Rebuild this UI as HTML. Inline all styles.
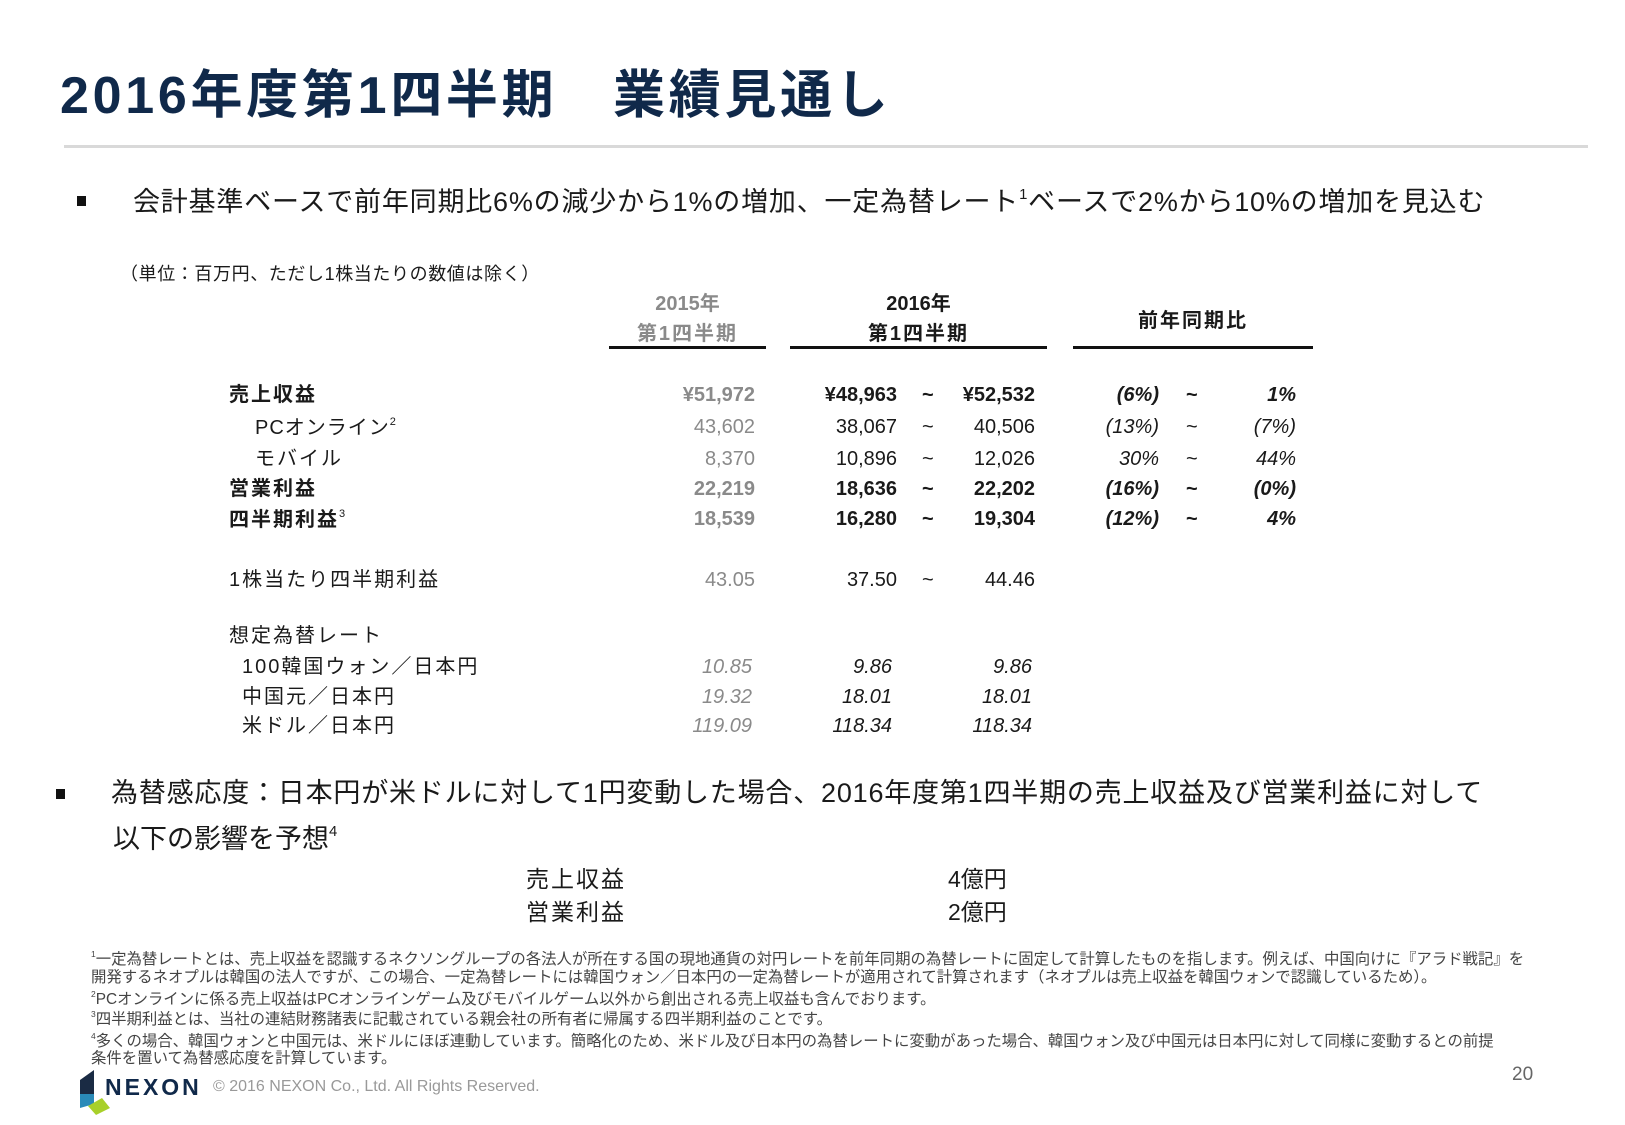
<!DOCTYPE html>
<html><head><meta charset="utf-8"><style>
body{margin:0;width:1625px;height:1125px;background:#fff;position:relative;overflow:hidden;font-family:"Liberation Sans","Noto Sans CJK JP",sans-serif;color:#1a1a1a}
div{position:absolute;white-space:nowrap;line-height:1}
.t{font-size:20px}
.b{font-weight:bold}
.g{color:#8a8a8a}
.i{font-style:italic}
.r{text-align:right}
.l{letter-spacing:2px}
.f{font-size:15.4px;color:#444;left:91px}
sup{font-size:0.55em;vertical-align:0.8em;font-weight:normal}
</style></head><body>
<div style="left:60px;top:70px;font-size:52px;font-weight:bold;color:#10294a;letter-spacing:3.7px">2016年度第1四半期　業績見通し</div>
<div style="left:64px;top:145px;width:1524px;height:3px;background:#d9d9d9"></div>
<div style="left:77px;top:196px;width:9px;height:10px;background:#111"></div>
<div style="left:133px;top:188px;font-size:27px;letter-spacing:0.8px">会計基準ベースで前年同期比6%の減少から1%の増加、一定為替レート<sup>1</sup>ベースで2%から10%の増加を見込む</div>
<div style="left:120px;top:265px;font-size:18px;letter-spacing:0.6px">（単位：百万円、ただし1株当たりの数値は除く）</div>
<div class="t b g" style="left:609px;width:157px;text-align:center;top:294px">2015年</div>
<div class="t b g l" style="left:609px;width:157px;text-align:center;top:324px">第1四半期</div>
<div class="t b" style="left:790px;width:257px;text-align:center;top:294px">2016年</div>
<div class="t b l" style="left:790px;width:257px;text-align:center;top:324px">第1四半期</div>
<div class="t b l" style="left:1073px;width:240px;text-align:center;top:311px">前年同期比</div>
<div style="left:609px;top:346px;width:157px;height:3px;background:#111"></div>
<div style="left:790px;top:346px;width:257px;height:3px;background:#111"></div>
<div style="left:1073px;top:346px;width:240px;height:3px;background:#111"></div>

<div class="t b l" style="left:229px;top:385px">売上収益</div>
<div class="t b g r" style="right:870px;top:385px">¥51,972</div>
<div class="t b r" style="right:728px;top:385px">¥48,963</div>
<div class="t b" style="left:922px;top:385px">~</div>
<div class="t b r" style="right:590px;top:385px">¥52,532</div>
<div class="t b i r" style="right:466px;top:385px">(6%)</div>
<div class="t b" style="left:1186px;top:385px">~</div>
<div class="t b i r" style="right:329px;top:385px">1%</div>

<div class="t" style="left:255px;top:417px;letter-spacing:1px">PCオンライン<sup>2</sup></div>
<div class="t g r" style="right:870px;top:417px">43,602</div>
<div class="t r" style="right:728px;top:417px">38,067</div>
<div class="t" style="left:922px;top:417px">~</div>
<div class="t r" style="right:590px;top:417px">40,506</div>
<div class="t i r" style="right:466px;top:417px">(13%)</div>
<div class="t" style="left:1186px;top:417px">~</div>
<div class="t i r" style="right:329px;top:417px">(7%)</div>

<div class="t l" style="left:255px;top:449px">モバイル</div>
<div class="t g r" style="right:870px;top:449px">8,370</div>
<div class="t r" style="right:728px;top:449px">10,896</div>
<div class="t" style="left:922px;top:449px">~</div>
<div class="t r" style="right:590px;top:449px">12,026</div>
<div class="t i r" style="right:466px;top:449px">30%</div>
<div class="t" style="left:1186px;top:449px">~</div>
<div class="t i r" style="right:329px;top:449px">44%</div>

<div class="t b l" style="left:229px;top:479px">営業利益</div>
<div class="t b g r" style="right:870px;top:479px">22,219</div>
<div class="t b r" style="right:728px;top:479px">18,636</div>
<div class="t b" style="left:922px;top:479px">~</div>
<div class="t b r" style="right:590px;top:479px">22,202</div>
<div class="t b i r" style="right:466px;top:479px">(16%)</div>
<div class="t b" style="left:1186px;top:479px">~</div>
<div class="t b i r" style="right:329px;top:479px">(0%)</div>

<div class="t b l" style="left:229px;top:509px">四半期利益<sup>3</sup></div>
<div class="t b g r" style="right:870px;top:509px">18,539</div>
<div class="t b r" style="right:728px;top:509px">16,280</div>
<div class="t b" style="left:922px;top:509px">~</div>
<div class="t b r" style="right:590px;top:509px">19,304</div>
<div class="t b i r" style="right:466px;top:509px">(12%)</div>
<div class="t b" style="left:1186px;top:509px">~</div>
<div class="t b i r" style="right:329px;top:509px">4%</div>

<div class="t l" style="left:229px;top:570px">1株当たり四半期利益</div>
<div class="t g r" style="right:870px;top:570px">43.05</div>
<div class="t r" style="right:728px;top:570px">37.50</div>
<div class="t" style="left:922px;top:570px">~</div>
<div class="t r" style="right:590px;top:570px">44.46</div>

<div class="t l" style="left:229px;top:626px">想定為替レート</div>
<div class="t l" style="left:242px;top:657px">100韓国ウォン／日本円</div>
<div class="t g i r" style="right:873px;top:657px">10.85</div>
<div class="t i r" style="right:733px;top:657px">9.86</div>
<div class="t i r" style="right:593px;top:657px">9.86</div>
<div class="t l" style="left:242px;top:687px">中国元／日本円</div>
<div class="t g i r" style="right:873px;top:687px">19.32</div>
<div class="t i r" style="right:733px;top:687px">18.01</div>
<div class="t i r" style="right:593px;top:687px">18.01</div>
<div class="t l" style="left:242px;top:716px">米ドル／日本円</div>
<div class="t g i r" style="right:873px;top:716px">119.09</div>
<div class="t i r" style="right:733px;top:716px">118.34</div>
<div class="t i r" style="right:593px;top:716px">118.34</div>

<div style="left:56px;top:789px;width:9px;height:10px;background:#111"></div>
<div style="left:111px;top:780px;font-size:27px;letter-spacing:0.8px">為替感応度：日本円が米ドルに対して1円変動した場合、2016年度第1四半期の売上収益及び営業利益に対して</div>
<div style="left:113px;top:825px;font-size:27px">以下の影響を予想<sup>4</sup></div>
<div style="left:526px;top:868px;font-size:23px;letter-spacing:2px">売上収益</div>
<div style="left:948px;top:868px;font-size:23px">4億円</div>
<div style="left:526px;top:901px;font-size:23px;letter-spacing:2px">営業利益</div>
<div style="left:948px;top:901px;font-size:23px">2億円</div>

<div class="f" style="top:950px"><sup>1</sup>一定為替レートとは、売上収益を認識するネクソングループの各法人が所在する国の現地通貨の対円レートを前年同期の為替レートに固定して計算したものを指します。例えば、中国向けに『アラド戦記』を</div>
<div class="f" style="top:970px">開発するネオプルは韓国の法人ですが、この場合、一定為替レートには韓国ウォン／日本円の一定為替レートが適用されて計算されます（ネオプルは売上収益を韓国ウォンで認識しているため）。</div>
<div class="f" style="top:990px"><sup>2</sup>PCオンラインに係る売上収益はPCオンラインゲーム及びモバイルゲーム以外から創出される売上収益も含んでおります。</div>
<div class="f" style="top:1010px"><sup>3</sup>四半期利益とは、当社の連結財務諸表に記載されている親会社の所有者に帰属する四半期利益のことです。</div>
<div class="f" style="top:1032px"><sup>4</sup>多くの場合、韓国ウォンと中国元は、米ドルにほぼ連動しています。簡略化のため、米ドル及び日本円の為替レートに変動があった場合、韓国ウォン及び中国元は日本円に対して同様に変動するとの前提</div>
<div class="f" style="top:1051px">条件を置いて為替感応度を計算しています。</div>
<div style="left:1512px;top:1065px;font-size:19px;color:#666">20</div>
<svg style="position:absolute;left:80px;top:1070px" width="40" height="45"><polygon points="14,0 14,24 0,24 0,10" fill="#1a2b44"/><polygon points="0,24 14,24 14,34 0,38" fill="#2a8ab8"/><polygon points="8,36 22,28 30,38 16,45" fill="#a8d02a"/></svg>
<div style="left:105px;top:1076px;font-size:23px;font-weight:bold;color:#10294a;letter-spacing:3px">NEXON</div>
<div style="left:213px;top:1079px;font-size:16px;color:#999">© 2016 NEXON Co., Ltd. All Rights Reserved.</div>
</body></html>
